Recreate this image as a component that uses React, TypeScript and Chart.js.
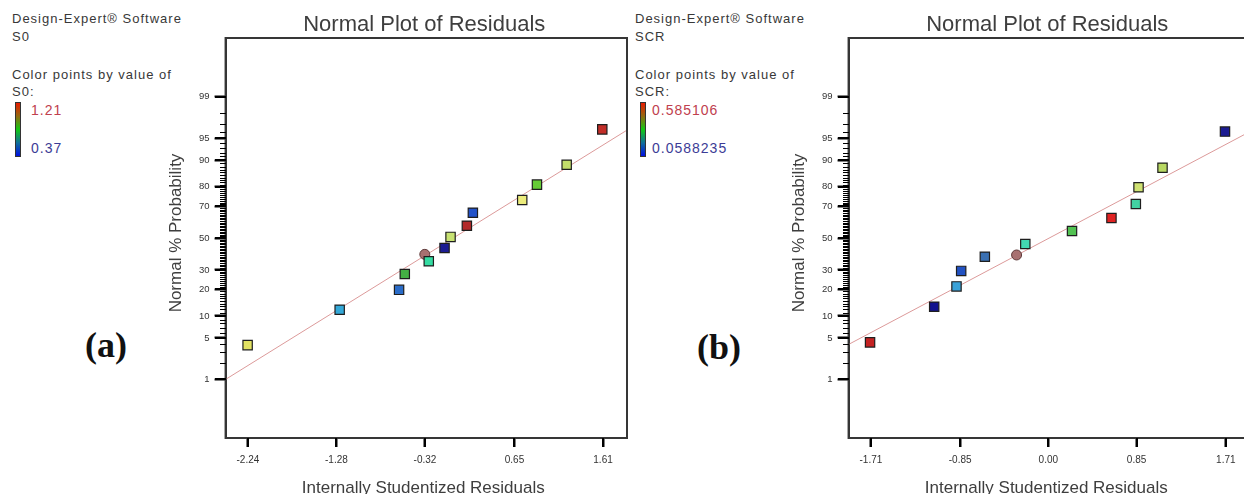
import React, { useEffect, useRef } from "react";
import { Chart, registerables } from "chart.js";

Chart.register(...registerables);

// ---------- data ----------
const MAJOR_PCT = [1, 5, 10, 20, 30, 50, 70, 80, 90, 95, 99];
const MAJOR_LABELS = ["1", "5", "10", "20", "30", "50", "70", "80", "90", "95", "99"];
const MINOR_PCT = Array.from({ length: 99 }, (_, i) => i + 1).filter((p) => MAJOR_PCT.indexOf(p) < 0);

// Panel (a): S0
const S0_X_TICKS = [-2.24, -1.28, -0.32, 0.65, 1.61];
const S0_X_LABELS = ["-2.24", "-1.28", "-0.32", "0.65", "1.61"];
const S0_X_RANGE = [-2.482, 1.87];
const S0_RESID = [-2.243, -1.245, -0.601, -0.539, -0.279, -0.108, -0.043, 0.134, 0.199, 0.734, 0.894, 1.216, 1.602];
const S0_PCT = [3.9, 11.9, 19.7, 27.7, 35.1, 43.5, 50.7, 58.0, 66.1, 73.4, 81.0, 88.6, 96.3];
const S0_COLORS = ["#e2e262", "#34a8d8", "#2a6cc8", "#44b044", "#34dca2", "#1c1c92", "#c8e272", "#b22a2a", "#2252c8", "#ecec7c", "#66cc36", "#c2de6a", "#c22e28"];
const S0_MULTI_X = [-0.322];
const S0_MULTI_PCT = [39.4];
const S0_FIT_X = [-2.482, 1.87];
const S0_FIT_PCT = [1.0, 96.2];

// Panel (b): SCR
const SCR_X_TICKS = [-1.71, -0.85, 0.0, 0.85, 1.71];
const SCR_X_LABELS = ["-1.71", "-0.85", "0.00", "0.85", "1.71"];
const SCR_X_RANGE = [-1.925, 1.943];
const SCR_RESID = [-1.718, -1.1, -0.885, -0.84, -0.612, -0.222, 0.228, 0.608, 0.843, 0.869, 1.1, 1.702];
const SCR_PCT = [4.3, 12.9, 21.3, 29.4, 37.9, 46.1, 54.6, 62.9, 71.2, 79.8, 87.6, 96.0];
const SCR_COLORS = ["#c42222", "#12128e", "#3aa2d8", "#2252c2", "#3a70b2", "#42d8b2", "#52c252", "#e02222", "#42d2a2", "#d0e272", "#b8d862", "#1c1c92"];
const SCR_MULTI_X = [-0.306];
const SCR_MULTI_PCT = [39.0];
const SCR_FIT_X = [-1.925, 1.943];
const SCR_FIT_PCT = [4.0, 96.0];

// ---------- helpers ----------
function probit(p: number): number {
  const a = [-3.969683028665376e1, 2.209460984245205e2, -2.759285104469687e2, 1.38357751867269e2, -3.066479806614716e1, 2.506628277459239];
  const b = [-5.447609879822406e1, 1.615858368580409e2, -1.556989798598866e2, 6.680131188771972e1, -1.328068155288572e1];
  const c = [-7.784894002430293e-3, -3.223964580411365e-1, -2.400758277161838, -2.549732539343734, 4.374664141464968, 2.938163982698783];
  const d = [7.784695709041462e-3, 3.224671290700398e-1, 2.445134137142996, 3.754408661907416];
  const pl = 0.02425;
  if (p < pl) {
    const q = Math.sqrt(-2 * Math.log(p));
    return (((((c[0] * q + c[1]) * q + c[2]) * q + c[3]) * q + c[4]) * q + c[5]) / ((((d[0] * q + d[1]) * q + d[2]) * q + d[3]) * q + 1);
  }
  if (p <= 1 - pl) {
    const q = p - 0.5;
    const r = q * q;
    return ((((((a[0] * r + a[1]) * r + a[2]) * r + a[3]) * r + a[4]) * r + a[5]) * q) / (((((b[0] * r + b[1]) * r + b[2]) * r + b[3]) * r + b[4]) * r + 1);
  }
  const q = Math.sqrt(-2 * Math.log(1 - p));
  return -(((((c[0] * q + c[1]) * q + c[2]) * q + c[3]) * q + c[4]) * q + c[5]) / ((((d[0] * q + d[1]) * q + d[2]) * q + d[3]) * q + 1);
}

const Z_MAX = 3.29;
const FONT = "'Liberation Sans', Arial, sans-serif";

type PanelCfg = {
  xTicks: number[];
  xLabels: string[];
  xRange: number[];
  resid: number[];
  pct: number[];
  colors: string[];
  multiX: number[];
  multiPct: number[];
  fitX: number[];
  fitPct: number[];
};

function Panel({ cfg, left }: { cfg: PanelCfg; left: number }) {
  const ref = useRef<HTMLCanvasElement | null>(null);
  useEffect(() => {
    const canvas = ref.current;
    if (!canvas) return;
    const decor = {
      id: "decor",
      afterDraw(chart: any) {
        const ctx: CanvasRenderingContext2D = chart.ctx;
        const area = chart.chartArea;
        const ys = chart.scales["y"];
        const xs = chart.scales["x"];
        const L = Math.round(area.left);
        const B = Math.round(area.bottom);
        ctx.save();
        // frame
        ctx.strokeStyle = "#363636";
        ctx.lineWidth = 2;
        ctx.strokeRect(area.left, area.top, area.right - area.left, area.bottom - area.top);
        // minor ticks on the probability axis (every 1 %)
        ctx.fillStyle = "#000000";
        for (let i = 0; i < MINOR_PCT.length; i++) {
          const yy = Math.round(ys.getPixelForValue(probit(MINOR_PCT[i] / 100)));
          ctx.fillRect(L - 6, yy, 6, 1);
        }
        // major ticks
        for (let i = 0; i < MAJOR_PCT.length; i++) {
          const yy = Math.round(ys.getPixelForValue(probit(MAJOR_PCT[i] / 100)));
          ctx.fillRect(L - 11, yy - 1, 11, 2);
        }
        for (let i = 0; i < cfg.xTicks.length; i++) {
          const xx = Math.round(xs.getPixelForValue(cfg.xTicks[i]));
          ctx.fillRect(xx - 1, B, 2, 9);
        }
        // titles
        const cx = (area.left + area.right) / 2 - 2;
        ctx.fillStyle = "#3e3e3e";
        ctx.textAlign = "center";
        ctx.textBaseline = "alphabetic";
        ctx.font = `22px ${FONT}`;
        ctx.fillText("Normal Plot of Residuals", cx, 31);
        ctx.font = `17px ${FONT}`;
        ctx.fillText("Internally Studentized Residuals", cx - 1, 493);
        ctx.translate(area.left - 49, (area.top + area.bottom) / 2 - 5);
        ctx.rotate(-Math.PI / 2);
        ctx.textBaseline = "middle";
        ctx.fillText("Normal % Probability", 0, 0);
        ctx.restore();
      },
    };
    const chart = new Chart(canvas, {
      type: "scatter",
      data: {
        datasets: [
          {
            data: cfg.resid.map((x, i) => ({ x, y: probit(cfg.pct[i] / 100) })),
            pointStyle: "rect",
            pointRadius: 6.6,
            backgroundColor: cfg.colors,
            borderColor: "#1e1e1e",
            borderWidth: 1.2,
          },
          {
            data: cfg.multiX.map((x, i) => ({ x, y: probit(cfg.multiPct[i] / 100) })),
            pointStyle: "circle",
            pointRadius: 5,
            backgroundColor: "#a87070",
            borderColor: "#5e3a3a",
            borderWidth: 1,
          },
          {
            data: cfg.fitX.map((x, i) => ({ x, y: probit(cfg.fitPct[i] / 100) })),
            showLine: true,
            pointRadius: 0,
            borderColor: "#dc9a9a",
            borderWidth: 1,
          },
        ],
      } as any,
      options: {
        responsive: false,
        animation: false,
        events: [],
        layout: { padding: { left: 44, top: 38, right: 13, bottom: 21 } },
        plugins: { legend: { display: false }, tooltip: { enabled: false } },
        scales: {
          x: {
            type: "linear",
            min: cfg.xRange[0],
            max: cfg.xRange[1],
            afterBuildTicks: (s: any) => {
              s.ticks = cfg.xTicks.map((v) => ({ value: v }));
            },
            grid: { display: true, color: "rgba(0,0,0,0)", tickLength: 9, tickColor: "#000", tickWidth: 2 },
            border: { display: true, color: "#363636", width: 2 },
            ticks: {
              autoSkip: false,
              maxRotation: 0,
              padding: 7,
              color: "#333",
              font: { family: FONT, size: 10 },
              callback: (_v: any, i: number) => cfg.xLabels[i],
            },
          },
          y: {
            type: "linear",
            min: -Z_MAX,
            max: Z_MAX,
            afterBuildTicks: (s: any) => {
              s.ticks = MAJOR_PCT.map((p) => ({ value: probit(p / 100) }));
            },
            grid: { display: true, color: "rgba(0,0,0,0)", tickLength: 11, tickColor: "#000", tickWidth: 2 },
            border: { display: true, color: "#363636", width: 2 },
            ticks: {
              autoSkip: false,
              padding: 5,
              color: "#333",
              font: { family: FONT, size: 9.5 },
              callback: (_v: any, i: number) => MAJOR_LABELS[i],
            },
          },
        },
      } as any,
      plugins: [decor],
    });
    return () => chart.destroy();
  }, [cfg]);
  return <canvas ref={ref} width={490} height={494} style={{ position: "absolute", left, top: 0, display: "block" }} />;
}

function Annotation({ left, name, hi, lo, barLeft, numLeft }: { left: number; name: string; hi: string; lo: string; barLeft: number; numLeft: number }) {
  const txt: React.CSSProperties = {
    position: "absolute",
    fontFamily: FONT,
    fontSize: 13,
    lineHeight: "13px",
    letterSpacing: "1px",
    color: "#383838",
    whiteSpace: "nowrap",
    left,
  };
  const num: React.CSSProperties = { ...txt, fontSize: 14, lineHeight: "14px", letterSpacing: "1px", left: numLeft };
  return (
    <>
      <div style={{ ...txt, top: 12.3 }}>Design-Expert® Software</div>
      <div style={{ ...txt, top: 29.7 }}>{name}</div>
      <div style={{ ...txt, top: 68.3 }}>Color points by value of</div>
      <div style={{ ...txt, top: 84.7 }}>{name}:</div>
      <div
        style={{
          position: "absolute",
          left: barLeft,
          top: 102,
          width: 4,
          height: 53,
          border: "1px solid #333",
          background: "linear-gradient(to bottom, #e81c00, #946a10 25%, #12c812 50%, #10709a 75%, #0010e0)",
        }}
      />
      <div style={{ ...num, top: 103.2, color: "#c0404e" }}>{hi}</div>
      <div style={{ ...num, top: 141, color: "#3c3c96" }}>{lo}</div>
    </>
  );
}

const S0_CFG: PanelCfg = {
  xTicks: S0_X_TICKS,
  xLabels: S0_X_LABELS,
  xRange: S0_X_RANGE,
  resid: S0_RESID,
  pct: S0_PCT,
  colors: S0_COLORS,
  multiX: S0_MULTI_X,
  multiPct: S0_MULTI_PCT,
  fitX: S0_FIT_X,
  fitPct: S0_FIT_PCT,
};
const SCR_CFG: PanelCfg = {
  xTicks: SCR_X_TICKS,
  xLabels: SCR_X_LABELS,
  xRange: SCR_X_RANGE,
  resid: SCR_RESID,
  pct: SCR_PCT,
  colors: SCR_COLORS,
  multiX: SCR_MULTI_X,
  multiPct: SCR_MULTI_PCT,
  fitX: SCR_FIT_X,
  fitPct: SCR_FIT_PCT,
};

export default function App() {
  const tag: React.CSSProperties = {
    position: "absolute",
    fontFamily: "'Liberation Serif', 'Times New Roman', serif",
    fontWeight: "bold",
    fontSize: 36,
    lineHeight: "36px",
    color: "#111",
  };
  return (
    <div style={{ position: "fixed", left: 0, top: 0, width: 1244, height: 494, overflow: "hidden", background: "#fff" }}>
      <Annotation left={12} name="S0" hi="1.21" lo="0.37" barLeft={15} numLeft={31} />
      <Annotation left={635} name="SCR" hi="0.585106" lo="0.0588235" barLeft={640} numLeft={652} />
      <div style={{ ...tag, left: 85, top: 327 }}>(a)</div>
      <div style={{ ...tag, left: 697, top: 329 }}>(b)</div>
      <Panel cfg={S0_CFG} left={150} />
      <Panel cfg={SCR_CFG} left={773} />
    </div>
  );
}
